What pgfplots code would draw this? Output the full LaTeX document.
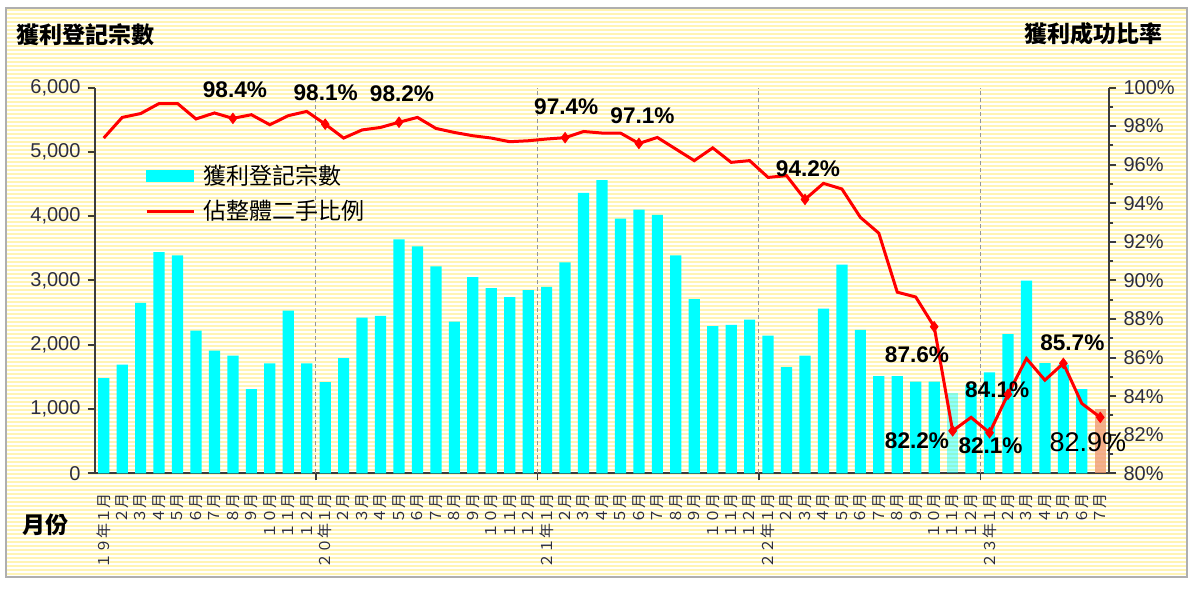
\documentclass[border=0pt]{standalone}
\usepackage{pgfplots}
\pgfplotsset{compat=1.18}
\usepackage{pgfplotstable}
\usepackage{fontspec}
\setmainfont{Liberation Sans}
\newfontfamily\cjk{Noto Sans CJK TC}

\definecolor{barcyan}{RGB}{0,255,255}
\definecolor{linered}{RGB}{255,0,0}
\definecolor{stripe}{RGB}{255,244,180}
\definecolor{framegray}{RGB}{175,175,175}
\definecolor{axisgray}{RGB}{60,60,60}
\definecolor{tickgray}{RGB}{45,45,60}
\definecolor{gridgray}{RGB}{150,150,150}
\definecolor{lastbar}{RGB}{238,150,110}

% monthly share of resales made at a profit (%)
\pgfplotstableread{
m r
1 97.38
2 98.45
3 98.65
4 99.17
5 99.17
6 98.37
7 98.68
8 98.4
9 98.59
10 98.07
11 98.54
12 98.76
13 98.1
14 97.38
15 97.80
16 97.93
17 98.2
18 98.45
19 97.88
20 97.67
21 97.50
22 97.38
23 97.19
24 97.24
25 97.33
26 97.4
27 97.72
28 97.64
29 97.64
30 97.1
31 97.41
32 96.81
33 96.21
34 96.87
35 96.12
36 96.21
37 95.34
38 95.43
39 94.2
40 95.03
41 94.74
42 93.27
43 92.45
44 89.39
45 89.14
46 87.6
47 82.2
48 82.9
49 82.1
50 84.1
51 85.95
52 84.83
53 85.7
54 83.62
55 82.9
}\ratio

\begin{document}
\begin{tikzpicture}[lbl/.style={inner sep=0pt, font=\bfseries\fontsize{11.3}{11.3}\selectfont}]
\begin{scope}[x=0.5pt,y=-0.5pt]
  \path[use as bounding box] (0,0) rectangle (1200,591);
  \fill[white] (0,0) rectangle (1200,591);
  % striped chart background
  \foreach \yy in {10,14,...,574}
    \draw[stripe, line width=1pt] (6.5,\yy) -- (1186.5,\yy);
  \draw[framegray, line width=0.6pt] (6,8) rectangle (1187,577);
  \node[anchor=west, inner sep=0pt, font=\cjk\bfseries\fontsize{11.5}{11.5}\selectfont] at (16,35) {獲利登記宗數};
  \node[anchor=east, inner sep=0pt, font=\cjk\bfseries\fontsize{11.5}{11.5}\selectfont] at (1163,34) {獲利成功比率};
  \node[anchor=west, inner sep=0pt, font=\cjk\bfseries\fontsize{11.5}{11.5}\selectfont] at (22,525) {月份};
\end{scope}

% left axis: number of profitable registrations
\begin{axis}[
  at={(47.25pt,-236.65pt)}, anchor=south west,
  scale only axis, width=507.5pt, height=192.9pt,
  xmin=0.5, xmax=55.5, ymin=0, ymax=6000,
  clip=false,
  axis y line*=left, axis x line*=bottom,
  axis line style={-, draw=axisgray, line width=1pt},
  tick align=outside, major tick length=3.5pt,
  ytick={0,1000,...,6000},
  ytick style={draw=axisgray, line width=1pt},
  scaled y ticks=false,
  /pgf/number format/1000 sep={,},
  /pgf/number format/assume math mode=true,
  yticklabel style={font=\fontsize{10}{10}\selectfont, text=tickgray},
  xtick={1,...,55},
  xtick style={draw=none},
  xticklabels={１９年１月,２月,３月,４月,５月,６月,７月,８月,９月,１０月,１１月,１２月,
    ２０年１月,２月,３月,４月,５月,６月,７月,８月,９月,１０月,１１月,１２月,
    ２１年１月,２月,３月,４月,５月,６月,７月,８月,９月,１０月,１１月,１２月,
    ２２年１月,２月,３月,４月,５月,６月,７月,８月,９月,１０月,１１月,１２月,
    ２３年１月,２月,３月,４月,５月,６月,７月},
  xticklabel shift=6.5pt,
  xticklabel style={rotate=90, anchor=east, inner sep=0pt,
    font=\cjk\fontsize{7.5}{7.5}\selectfont, text=tickgray},
  ybar, bar width=5.6pt,
]
\addplot[fill=barcyan, draw=none, bar shift=0pt] coordinates {
  (1,1480)(2,1690)(3,2650)(4,3440)(5,3390)(6,2220)(7,1910)(8,1830)(9,1310)(10,1710)(11,2530)(12,1710)
  (13,1420)(14,1790)(15,2420)(16,2450)(17,3640)(18,3530)(19,3220)(20,2360)(21,3050)(22,2880)(23,2740)(24,2850)
  (25,2900)(26,3280)(27,4360)(28,4560)(29,3960)(30,4100)(31,4020)(32,3390)(33,2710)(34,2290)(35,2310)(36,2390)
  (37,2140)(38,1650)(39,1830)(40,2560)(41,3245)(42,2230)(43,1510)(44,1510)(45,1425)(46,1425)(48,1380)
  (49,1570)(50,2165)(51,2995)(52,1715)(53,1690)(54,1310)};
\addplot[fill=barcyan, fill opacity=0.45, draw=none, bar shift=0pt] coordinates {(47,1250)};
\addplot[fill=lastbar, fill opacity=0.75, draw=none, bar shift=0pt] coordinates {(55,1000)};
\end{axis}

% right axis: share of resales at a profit
\begin{axis}[
  at={(47.25pt,-236.65pt)}, anchor=south west,
  scale only axis, width=507.5pt, height=192.9pt,
  xmin=0.5, xmax=55.5, ymin=80, ymax=100,
  clip=false,
  axis y line*=right, axis x line*=bottom,
  x axis line style={draw=none},
  y axis line style={-, draw=axisgray, line width=1pt},
  tick align=outside, major tick length=3.5pt, minor tick length=2pt,
  ytick={80,82,...,100}, minor y tick num=1,
  ytick style={draw=axisgray, line width=1pt},
  yticklabel={\pgfmathprintnumber{\tick}\%},
  /pgf/number format/assume math mode=true,
  yticklabel style={font=\fontsize{10}{10}\selectfont, text=tickgray, anchor=west},
  xtick={12.5,24.5,36.5,48.5}, xticklabels={},
  xtick style={draw=axisgray, line width=0.8pt},
  xmajorgrids,
  major grid style={gridgray, dash pattern=on 2pt off 1.5pt, line width=0.5pt},
  legend style={at={(0.0498,0.80)}, anchor=north west, draw=none, fill=none,
    inner sep=0pt, outer sep=0pt, row sep=6.5pt,
    font=\cjk\fontsize{11.5}{11.5}\selectfont,
    nodes={inner sep=0pt},
    /tikz/every odd column/.append style={column sep=4pt}},
  legend cell align=left,
]
\addlegendimage{legend image code/.code={\fill[barcyan] (0pt,-2.75pt) rectangle (23.5pt,2.75pt);}}
\addlegendentry{獲利登記宗數}
\addplot[linered, line width=1.5pt, mark=none,
  legend image code/.code={\draw[linered, line width=1.5pt] (0pt,0pt) -- (23.5pt,0pt);}]
  table[x=m, y=r] {\ratio};
\addlegendentry{佔整體二手比例}
\addplot[only marks, mark=diamond*, mark size=2.6pt, color=linered, forget plot] coordinates {
  (8,98.4)(13,98.1)(17,98.2)(26,97.4)(30,97.1)(39,94.2)
  (46,87.6)(47,82.2)(49,82.1)(50,84.1)(53,85.7)(55,82.9)};
\node[lbl, xshift=1pt,    yshift=14.5pt] at (axis cs:8,98.4)  {98.4\%};
\node[lbl, xshift=0.25pt, yshift=15.5pt] at (axis cs:13,98.1) {98.1\%};
\node[lbl, xshift=1.5pt,  yshift=14.5pt] at (axis cs:17,98.2) {98.2\%};
\node[lbl, xshift=0.6pt,  yshift=15.7pt] at (axis cs:26,97.4) {97.4\%};
\node[lbl, xshift=1.8pt,  yshift=14.1pt] at (axis cs:30,97.1) {97.1\%};
\node[lbl, xshift=1.5pt,  yshift=15.1pt] at (axis cs:39,94.2) {94.2\%};
\node[lbl, xshift=-8.6pt, yshift=-14pt]  at (axis cs:46,87.6) {87.6\%};
\node[lbl, xshift=-17.8pt,yshift=-4.9pt] at (axis cs:47,82.2) {82.2\%};
\node[lbl, xshift=0.5pt,  yshift=-6.4pt] at (axis cs:49,82.1) {82.1\%};
\node[lbl, xshift=-5.4pt, yshift=2.25pt] at (axis cs:50,84.1) {84.1\%};
\node[lbl, xshift=4.5pt,  yshift=10.3pt] at (axis cs:53,85.7) {85.7\%};
\node[inner sep=0pt, font=\fontsize{13.5}{13.5}\selectfont, xshift=-6.2pt, yshift=-12.65pt]
  at (axis cs:55,82.9) {82.9\%};
\end{axis}
\end{tikzpicture}
\end{document}
